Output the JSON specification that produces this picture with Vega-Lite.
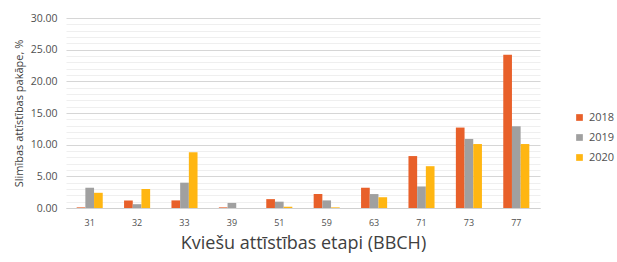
{
  "$schema": "https://vega.github.io/schema/vega-lite/v6.json",
  "autosize": {"type": "none"},
  "width": 474,
  "height": 190,
  "padding": {"left": 66, "top": 18, "right": 77, "bottom": 54},
  "background": "white",
  "config": {"view": {"stroke": null}, "font": "Open Sans"},
  "data": {"values": [
    {"stage": "31", "year": "2018", "v": 0.1},
    {"stage": "31", "year": "2019", "v": 3.2},
    {"stage": "31", "year": "2020", "v": 2.4},
    {"stage": "32", "year": "2018", "v": 1.2},
    {"stage": "32", "year": "2019", "v": 0.6},
    {"stage": "32", "year": "2020", "v": 3.0},
    {"stage": "33", "year": "2018", "v": 1.2},
    {"stage": "33", "year": "2019", "v": 4.0},
    {"stage": "33", "year": "2020", "v": 8.8},
    {"stage": "39", "year": "2018", "v": 0.1},
    {"stage": "39", "year": "2019", "v": 0.8},
    {"stage": "39", "year": "2020", "v": 0.0},
    {"stage": "51", "year": "2018", "v": 1.4},
    {"stage": "51", "year": "2019", "v": 1.0},
    {"stage": "51", "year": "2020", "v": 0.2},
    {"stage": "59", "year": "2018", "v": 2.2},
    {"stage": "59", "year": "2019", "v": 1.2},
    {"stage": "59", "year": "2020", "v": 0.1},
    {"stage": "63", "year": "2018", "v": 3.2},
    {"stage": "63", "year": "2019", "v": 2.2},
    {"stage": "63", "year": "2020", "v": 1.7},
    {"stage": "71", "year": "2018", "v": 8.2},
    {"stage": "71", "year": "2019", "v": 3.4},
    {"stage": "71", "year": "2020", "v": 6.6},
    {"stage": "73", "year": "2018", "v": 12.7},
    {"stage": "73", "year": "2019", "v": 10.9},
    {"stage": "73", "year": "2020", "v": 10.1},
    {"stage": "77", "year": "2018", "v": 24.2},
    {"stage": "77", "year": "2019", "v": 12.9},
    {"stage": "77", "year": "2020", "v": 10.1}
  ]},
  "mark": {"type": "bar"},
  "encoding": {
    "x": {
      "field": "stage", "type": "nominal", "sort": null,
      "scale": {"paddingInner": 0.45, "paddingOuter": 0.225},
      "axis": {
        "title": "Kviešu attīstības etapi (BBCH)",
        "titleFontSize": 18, "titleFontWeight": "normal", "titleColor": "#404040",
        "titlePadding": 7,
        "labelAngle": 0, "labelFontSize": 9, "labelColor": "#505050", "labelPadding": 10,
        "ticks": false, "domainColor": "#d0d0d0", "domainWidth": 1
      }
    },
    "xOffset": {"field": "year", "type": "nominal", "scale": {"paddingInner": 0}},
    "y": {
      "field": "v", "type": "quantitative",
      "scale": {"domain": [0, 30], "nice": false},
      "axis": {
        "title": "Slimības attīstības pakāpe, %",
        "titleFontSize": 11, "titleFontWeight": "normal", "titleColor": "#404040",
        "titlePadding": 6,
        "values": [0,1,2,3,4,5,6,7,8,9,10,11,12,13,14,15,16,17,18,19,20,21,22,23,24,25,26,27,28,29,30],
        "labelExpr": "datum.value % 5 === 0 ? format(datum.value, '.2f') : ''",
        "labelFontSize": 10.5, "labelColor": "#505050", "labelPadding": 9,
        "ticks": false, "domain": false,
        "gridColor": {"condition": {"test": "datum.value % 5 === 0", "value": "#d6d6d6"}, "value": "#efefef"},
        "gridWidth": {"condition": {"test": "datum.value % 5 === 0", "value": 1.2}, "value": 1}
      }
    },
    "color": {
      "field": "year", "type": "nominal",
      "scale": {"domain": ["2018", "2019", "2020"], "range": ["#E8602A", "#A0A0A0", "#FFB612"]},
      "legend": {
        "title": null, "orient": "none", "legendX": 508, "legendY": 94,
        "symbolType": "square", "symbolSize": 45, "labelFontSize": 11, "labelColor": "#505050",
        "rowPadding": 8, "symbolStrokeWidth": 0, "labelOffset": 4
      }
    }
  }
}
